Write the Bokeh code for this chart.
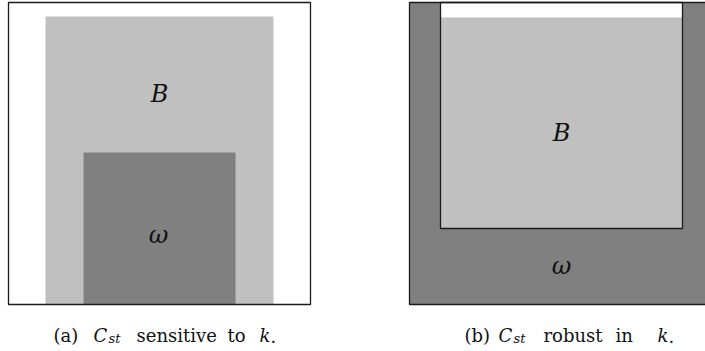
from bokeh.plotting import figure
from bokeh.models import Range1d
from bokeh.core.properties import value
from bokeh.embed import file_html
from bokeh.resources import INLINE

# ---- regions (reference pixel coordinates) ----
region_names = ["frame_a", "B_a", "omega_a", "omega_b", "inner_b", "B_b"]
region_left = [8, 45, 83, 409, 440, 440]
region_right = [310, 273, 235, 707, 682, 682]
region_top = [2, 16, 152, 2, 2, 17]
region_bottom = [304, 304, 304, 304, 228, 228]
region_fill = ["#ffffff", "#c0c0c0", "#808080", "#808080", "#ffffff", "#c0c0c0"]

# outlined boxes
frame_left = [8, 409, 440]
frame_right = [310, 707, 682]
frame_top = [2, 2, 2]
frame_bottom = [304, 304, 228]

# region labels
label_text = ["B", "ω", "B", "ω"]
label_x = [159, 158, 561, 561]
label_y = [93, 234, 132, 265]

# captions
cap_text = ["(a)", "C", "st", "sensitive", "to", "k", ".",
            "(b)", "C", "st", "robust", "in", "k", "."]
cap_x = [53, 93, 108, 136, 227, 259, 270,
         464, 498, 513, 543, 615, 657, 668]
cap_italic = [False, True, True, False, False, True, False,
              False, True, True, False, False, True, False]
cap_sub = [False, False, True, False, False, False, False,
           False, False, True, False, False, False, False]
cap_base = 335
cap_size = 18
sub_size = 13
sub_drop = 3

FONT = value("DejaVu Serif")

p = figure(width=705, height=351, x_range=Range1d(0, 705), y_range=Range1d(351, 0),
           output_backend="svg", toolbar_location=None, min_border=0)
p.axis.visible = False
p.grid.visible = False
p.outline_line_color = None
p.background_fill_color = "white"
p.border_fill_color = "white"

p.quad(left=region_left, right=region_right, top=region_top, bottom=region_bottom,
       fill_color=region_fill, line_color=None)
p.quad(left=frame_left, right=frame_right, top=frame_top, bottom=frame_bottom,
       fill_color=None, line_color="#1a1a1a", line_width=1.3)

p.text(x=label_x, y=label_y, text=label_text, text_align="center",
       text_baseline="alphabetic", text_font=FONT,
       text_font_style="italic", text_font_size="24px", text_color="#111111")

for i, t in enumerate(cap_text):
    sub = cap_sub[i]
    p.text(x=[cap_x[i]], y=[cap_base + (sub_drop if sub else 0)], text=[t],
           text_align="left", text_baseline="alphabetic",
           text_font=FONT,
           text_font_style="italic" if cap_italic[i] else "normal",
           text_font_size=f"{sub_size if sub else cap_size}px", text_color="#111111")

open("out.html", "w").write(file_html(p, INLINE))
